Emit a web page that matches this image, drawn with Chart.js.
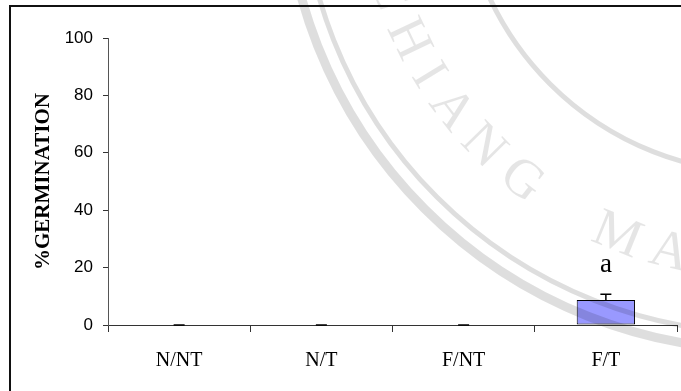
<!DOCTYPE html>
<html>
<head>
<meta charset="utf-8">
<script src="https://cdn.jsdelivr.net/npm/chart.js@4.4.1/dist/chart.umd.min.js"></script>
<style>
  body { margin: 0; background: #fff; }
  canvas { display: block; }
</style>
</head>
<body>
<canvas id="myChart" width="681" height="391"></canvas>
<script>
const labels = ['N/NT', 'N/T', 'F/NT', 'F/T'];
const germination = [0, 0, 0, 8.7];
const errors = [0, 0, 0, 2];
const letters = ['', '', '', 'a'];
const yMin = 0, yMax = 100, yStep = 20;

const ctx = document.getElementById('myChart');

// error bars + significance letters
const errorBars = {
  id: 'errorBars',
  afterDatasetsDraw(chart) {
    const c = chart.ctx;
    const y = chart.scales.y;
    const meta = chart.getDatasetMeta(0);
    c.save();
    c.strokeStyle = '#000';
    c.lineWidth = 1.5;
    meta.data.forEach((bar, i) => {
      const base = y.getPixelForValue(germination[i]);
      const top = y.getPixelForValue(germination[i] + errors[i]);
      c.beginPath();
      c.moveTo(bar.x, base);
      c.lineTo(bar.x, top);
      c.moveTo(bar.x - 5.5, top);
      c.lineTo(bar.x + 5.5, top);
      c.stroke();
      if (letters[i]) {
        c.fillStyle = '#000';
        c.font = '27px "Liberation Serif"';
        c.textAlign = 'center';
        c.textBaseline = 'middle';
        c.fillText(letters[i], bar.x, top - 29);
      }
    });
    c.restore();
  }
};

// frame and faint watermark seal
const decor = {
  id: 'decor',
  afterDraw(chart) {
    const c = chart.ctx;
    c.save();
    const cx = 765, cy = -131;
    c.strokeStyle = 'rgba(0,0,0,0.13)';
    c.lineWidth = 9;
    c.beginPath(); c.arc(cx, cy, 481, 0, Math.PI); c.stroke();
    c.lineWidth = 5;
    c.beginPath(); c.arc(cx, cy, 464, 0, Math.PI); c.stroke();
    c.lineWidth = 5;
    c.beginPath(); c.arc(cx, cy, 304, 0, Math.PI); c.stroke();

    const seal = [['C', 162], ['H', 154.5], ['I', 148.5], ['A', 142.5], ['N', 135.5],
                  ['G', 128], ['M', 112], ['A', 104], ['I', 98]];
    c.fillStyle = 'rgba(0,0,0,0.10)';
    c.font = '54px "Liberation Serif"';
    c.textAlign = 'center';
    c.textBaseline = 'alphabetic';
    seal.forEach(([ch, deg]) => {
      const t = deg * Math.PI / 180;
      c.save();
      c.translate(cx + 410 * Math.cos(t), cy + 410 * Math.sin(t));
      c.rotate(t - Math.PI / 2);
      c.fillText(ch, 0, 0);
      c.restore();
    });

    c.strokeStyle = '#111';
    c.lineWidth = 2;
    c.beginPath();
    c.moveTo(10, 400);
    c.lineTo(10, 6);
    c.lineTo(700, 6);
    c.stroke();
    c.restore();
  }
};

new Chart(ctx, {
  type: 'bar',
  data: {
    labels: labels,
    datasets: [{
      label: '%GERMINATION',
      data: germination,
      backgroundColor: '#9999FF',
      borderColor: '#000',
      borderWidth: 1,
      borderSkipped: false,
      barPercentage: 0.41,
      categoryPercentage: 1
    }]
  },
  options: {
    responsive: false,
    animation: false,
    layout: { padding: { left: 20, top: 38, right: 4, bottom: 0 } },
    scales: {
      x: {
        afterFit: (s) => { s.height = 66; },
        grid: { drawOnChartArea: false, tickLength: 7, color: '#333', offset: true },
        border: { color: '#333', width: 1 },
        ticks: {
          color: '#000',
          padding: 17,
          font: { family: 'Liberation Serif', size: 20 }
        }
      },
      y: {
        min: yMin,
        max: yMax,
        afterFit: (s) => { s.width = 88; },
        grid: { drawOnChartArea: false, tickLength: 5, color: '#333' },
        border: { color: '#555', width: 1 },
        ticks: {
          stepSize: yStep,
          color: '#000',
          padding: 10,
          font: { family: 'Liberation Sans', size: 17 }
        },
        title: {
          display: true,
          text: '%GERMINATION',
          color: '#000',
          padding: { top: 11, bottom: 0 },
          font: { family: 'Liberation Serif', size: 21, weight: 'bold' }
        }
      }
    },
    plugins: {
      legend: { display: false },
      tooltip: { enabled: false }
    }
  },
  plugins: [errorBars, decor]
});
</script>
</body>
</html>
